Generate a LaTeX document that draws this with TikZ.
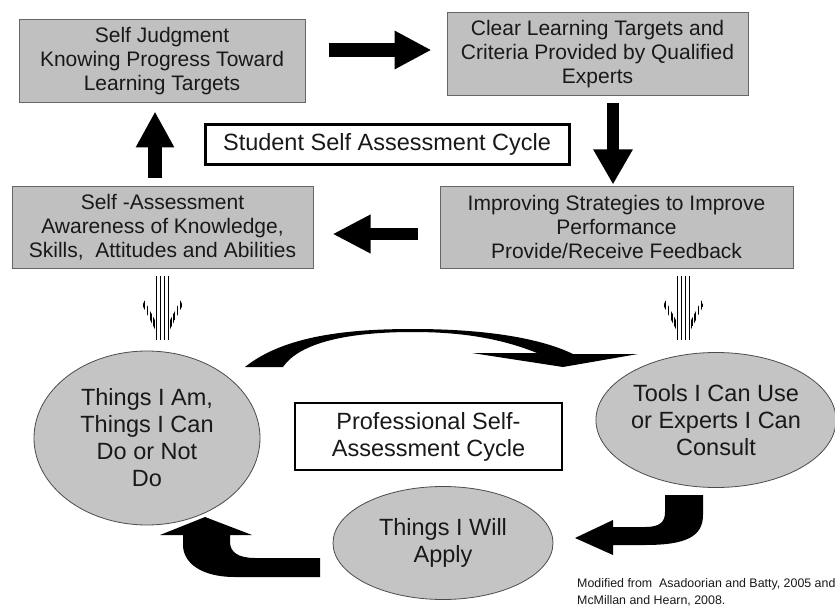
\documentclass[tikz,border=0pt]{standalone}
\usepackage{fontspec}
\setmainfont{Liberation Sans}
\usetikzlibrary{arrows.meta,calc,shapes.geometric}
\definecolor{boxgray}{RGB}{192,192,192}
\definecolor{ellgray}{RGB}{196,196,196}
\definecolor{txt}{RGB}{25,25,25}
\tikzset{
  gbox/.style={draw=black!60, line width=1pt, fill=boxgray, align=center, text=txt,
    inner sep=0pt, font=\fontsize{21}{24}\selectfont},
  tbox/.style={draw=black, line width=3pt, fill=white, align=center, text=txt,
    inner sep=0pt, font=\fontsize{23.5}{27}\selectfont},
  gell/.style={ellipse, draw=black!70, line width=0.8pt, fill=ellgray, align=center,
    text=txt, inner sep=0pt, font=\fontsize{23.5}{27}\selectfont},
  stripeline/.style={line width=1.4pt, black},
  note/.style={anchor=base west, inner sep=0pt, text=txt, font=\fontsize{12.4}{14}\selectfont}
}
\newcommand{\stripedarrow}{%
  \foreach \d in {-6,-2,2,6} \draw[stripeline] (\d,0) -- (\d,64);
  \begin{scope}
    \clip (-20,30) -- (0,68) -- (20,30) -- (18,25) -- (0,59) -- (-18,25) -- cycle;
    \foreach \d in {-18.5,-15,-11.5,-8.5,8.5,11.5,15,18.5} \draw[stripeline] (\d,20) -- (\d,70);
  \end{scope}}
\begin{document}
\begin{tikzpicture}[x=1pt,y=-1pt]
\useasboundingbox (0,0) rectangle (835,607);
\fill[white] (0,0) rectangle (835,607);

% student cycle boxes
\node[gbox, minimum width=286pt, minimum height=83pt] (b1) at (162,61.5)
  {Self Judgment\\Knowing Progress Toward\\Learning Targets};
\node[gbox, minimum width=301pt, minimum height=83pt] (b2) at (597.5,54.5)
  {Clear Learning Targets and\\Criteria Provided by Qualified\\Experts};
\node[gbox, minimum width=353pt, minimum height=82pt] (b3) at (616.5,227)
  {Improving Strategies to Improve\\Performance\\Provide/Receive Feedback};
\node[gbox, minimum width=301pt, minimum height=82pt] (b4) at (162.5,227)
  {Self -Assessment\\Awareness of Knowledge,\\Skills,\ \ Attitudes and Abilities};
\node[tbox, minimum width=364pt, minimum height=39pt] (ssac) at (387,144.5)
  {Student Self Assessment Cycle};

% block arrows of the student cycle
\draw[line width=14pt, -{Triangle[length=37pt,width=36pt]}]
  ($(b1.east)+(23,-11.5)$) -- ($(b2.west)+(-15,-4.5)$);
\draw[line width=12pt, -{Triangle[length=35pt,width=37pt]}]
  ($(b2.south)+(15.5,7)$) -- ($(b3.north)+(-3.5,-1)$);
\draw[line width=12pt, -{Triangle[length=38pt,width=36pt]}]
  ($(b3.west)+(-22,7)$) -- ($(b4.east)+(19,7)$);
\draw[line width=14pt, -{Triangle[length=36pt,width=36pt]}]
  ($(b4.north)+(-7.5,-8)$) -- ($(b1.south)+(-7,8)$);

% striped arrows
\begin{scope}[shift={($(b4.south)+(0,7)$)}]
  \stripedarrow
\end{scope}
\begin{scope}[shift={($(b3.south)+(67,7)$)}]
  \stripedarrow
\end{scope}

% professional cycle
\node[gell, minimum width=226pt, minimum height=174pt] (e1) at (147,438)
  {Things I Am,\\Things I Can\\Do or Not\\Do};
\node[gell, minimum width=238pt, minimum height=135pt] (e2) at (716,420)
  {Tools I Can Use\\or Experts I Can\\Consult};
\node[gell, minimum width=220pt, minimum height=113pt] (e3) at (443,543)
  {Things I Will\\Apply};
\node[tbox, line width=2.6pt, minimum width=267pt, minimum height=67pt] (psac) at (428.5,436.5)
  {Professional Self-\\Assessment Cycle};

% curved arrow e1 -> e2
\fill[black] (245,367) .. controls (285,335) and (350,329) .. (413,329)
  .. controls (485,329) and (540,338) .. (573,354) -- (638,354) -- (563,367)
  -- (472,353) -- (537,353) .. controls (500,338) and (460,332) .. (413,332)
  .. controls (350,332) and (300,342) .. (283,367) -- cycle;

% bent arrow e2 -> e3
\fill[black] (665,495) -- (703,495) -- (703,515)
  .. controls (703,537) and (685,545) .. (645,545) -- (613,545) -- (613,555)
  -- (575,538) -- (613,520) -- (613,527) -- (645,527)
  .. controls (660,527) and (665,522) .. (665,512) -- cycle;

% bent arrow e3 -> e1
\fill[black] (320,558) -- (320,577) -- (235,577)
  .. controls (200,577) and (183,562) .. (183,545) -- (183,535) -- (160,535)
  -- (205,517) -- (252,535) -- (230,535) -- (230,542)
  .. controls (230,552) and (238,558) .. (255,558) -- cycle;

% source note
\node[note] (n1) at (577,587) {Modified from\ \ Asadoorian and Batty, 2005 and};
\node[note] (n2) at (577,604) {McMillan and Hearn, 2008.};
\end{tikzpicture}
\end{document}
